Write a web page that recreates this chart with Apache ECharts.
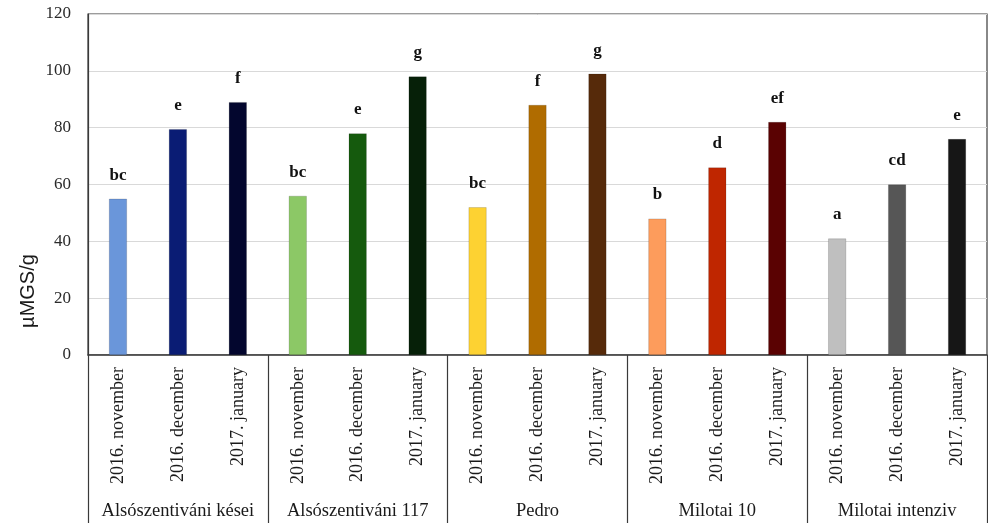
<!DOCTYPE html>
<html>
<head>
<meta charset="utf-8">
<script src="https://cdn.jsdelivr.net/npm/echarts@6/dist/echarts.min.js"></script>
<style>
  html, body { margin: 0; padding: 0; background: #fff; }
  #chart { width: 988px; height: 523px; }
</style>
</head>
<body>
<div id="chart"></div>
<script>
// Sampling months, repeated for each variety
const months = ['2016. november', '2016. december', '2017. january'];
const varieties = ['Alsószentiváni kései', 'Alsószentiváni 117', 'Pedro', 'Milotai 10', 'Milotai intenziv'];

// Measured content (µMGS/g) per variety × month
const values = [55, 79.5, 89, 56, 78, 98, 52, 88, 99, 48, 66, 82, 41, 60, 76];
// Significance groups written above each bar
const letters = ['bc', 'e', 'f', 'bc', 'e', 'g', 'bc', 'f', 'g', 'b', 'd', 'ef', 'a', 'cd', 'e'];
const yTicks = [0, 20, 40, 60, 80, 100, 120];

// One colour per bar: light → dark within each variety
const barColors = [
  '#6a96da', '#0a1c74', '#03062e',
  '#8cc866', '#155a0d', '#062008',
  '#fdd232', '#b06c00', '#562a0a',
  '#fd9c5c', '#bf2600', '#5a0202',
  '#bfbfbf', '#565656', '#161616'
];

const categories = [];
varieties.forEach(() => months.forEach(m => categories.push(m)));

const serif = '"Liberation Serif", "Times New Roman", serif';

const chart = echarts.init(document.getElementById('chart'), null, { renderer: 'canvas' });

chart.setOption({
  animation: false,
  backgroundColor: '#ffffff',
  grid: {
    left: 88, right: 1, top: 14, bottom: 168,
    show: true, borderColor: '#3a3a3a', borderWidth: 1.2,
    containLabel: false
  },
  xAxis: [
    {
      type: 'category',
      data: categories,
      position: 'bottom',
      axisLine: { show: true, lineStyle: { color: '#3a3a3a', width: 1.5 } },
      axisTick: { show: false },
      axisLabel: {
        interval: 0, rotate: 90, margin: 12,
        fontFamily: serif, fontSize: 18, color: '#1a1a1a'
      }
    },
    {
      type: 'category',
      data: varieties,
      position: 'bottom',
      boundaryGap: true,
      axisLine: { show: false },
      axisTick: {
        show: true, interval: 0, length: 170, inside: false,
        lineStyle: { color: '#3a3a3a', width: 1.2 }
      },
      axisLabel: {
        interval: 0, margin: 147,
        fontFamily: serif, fontSize: 18.5, color: '#1a1a1a'
      }
    }
  ],
  yAxis: {
    type: 'value',
    min: yTicks[0], max: yTicks[yTicks.length - 1], interval: 20,
    axisLine: { show: true, lineStyle: { color: '#3a3a3a', width: 1.2 } },
    axisTick: { show: false },
    axisLabel: { margin: 17, fontFamily: serif, fontSize: 17, color: '#2a2a2a' },
    splitLine: { show: true, lineStyle: { color: '#d9d9d9', width: 1 } }
  },
  graphic: [
    {
      type: 'text',
      x: 28, y: 291,
      rotation: Math.PI / 2,
      style: {
        text: 'µMGS/g',
        font: '20px "Liberation Sans", Arial, sans-serif',
        fill: '#1a1a1a',
        align: 'center', verticalAlign: 'middle'
      }
    }
  ],
  series: [
    {
      type: 'bar',
      xAxisIndex: 0,
      barWidth: '30%',
      data: values.map((v, i) => ({
        value: v,
        itemStyle: { color: barColors[i], borderColor: 'rgba(0,0,0,0.25)', borderWidth: 0.6 }
      })),
      label: {
        show: true,
        position: 'top',
        distance: 15,
        formatter: p => letters[p.dataIndex],
        fontFamily: serif, fontSize: 17, fontWeight: 'bold', color: '#111'
      }
    }
  ]
});
</script>
</body>
</html>
